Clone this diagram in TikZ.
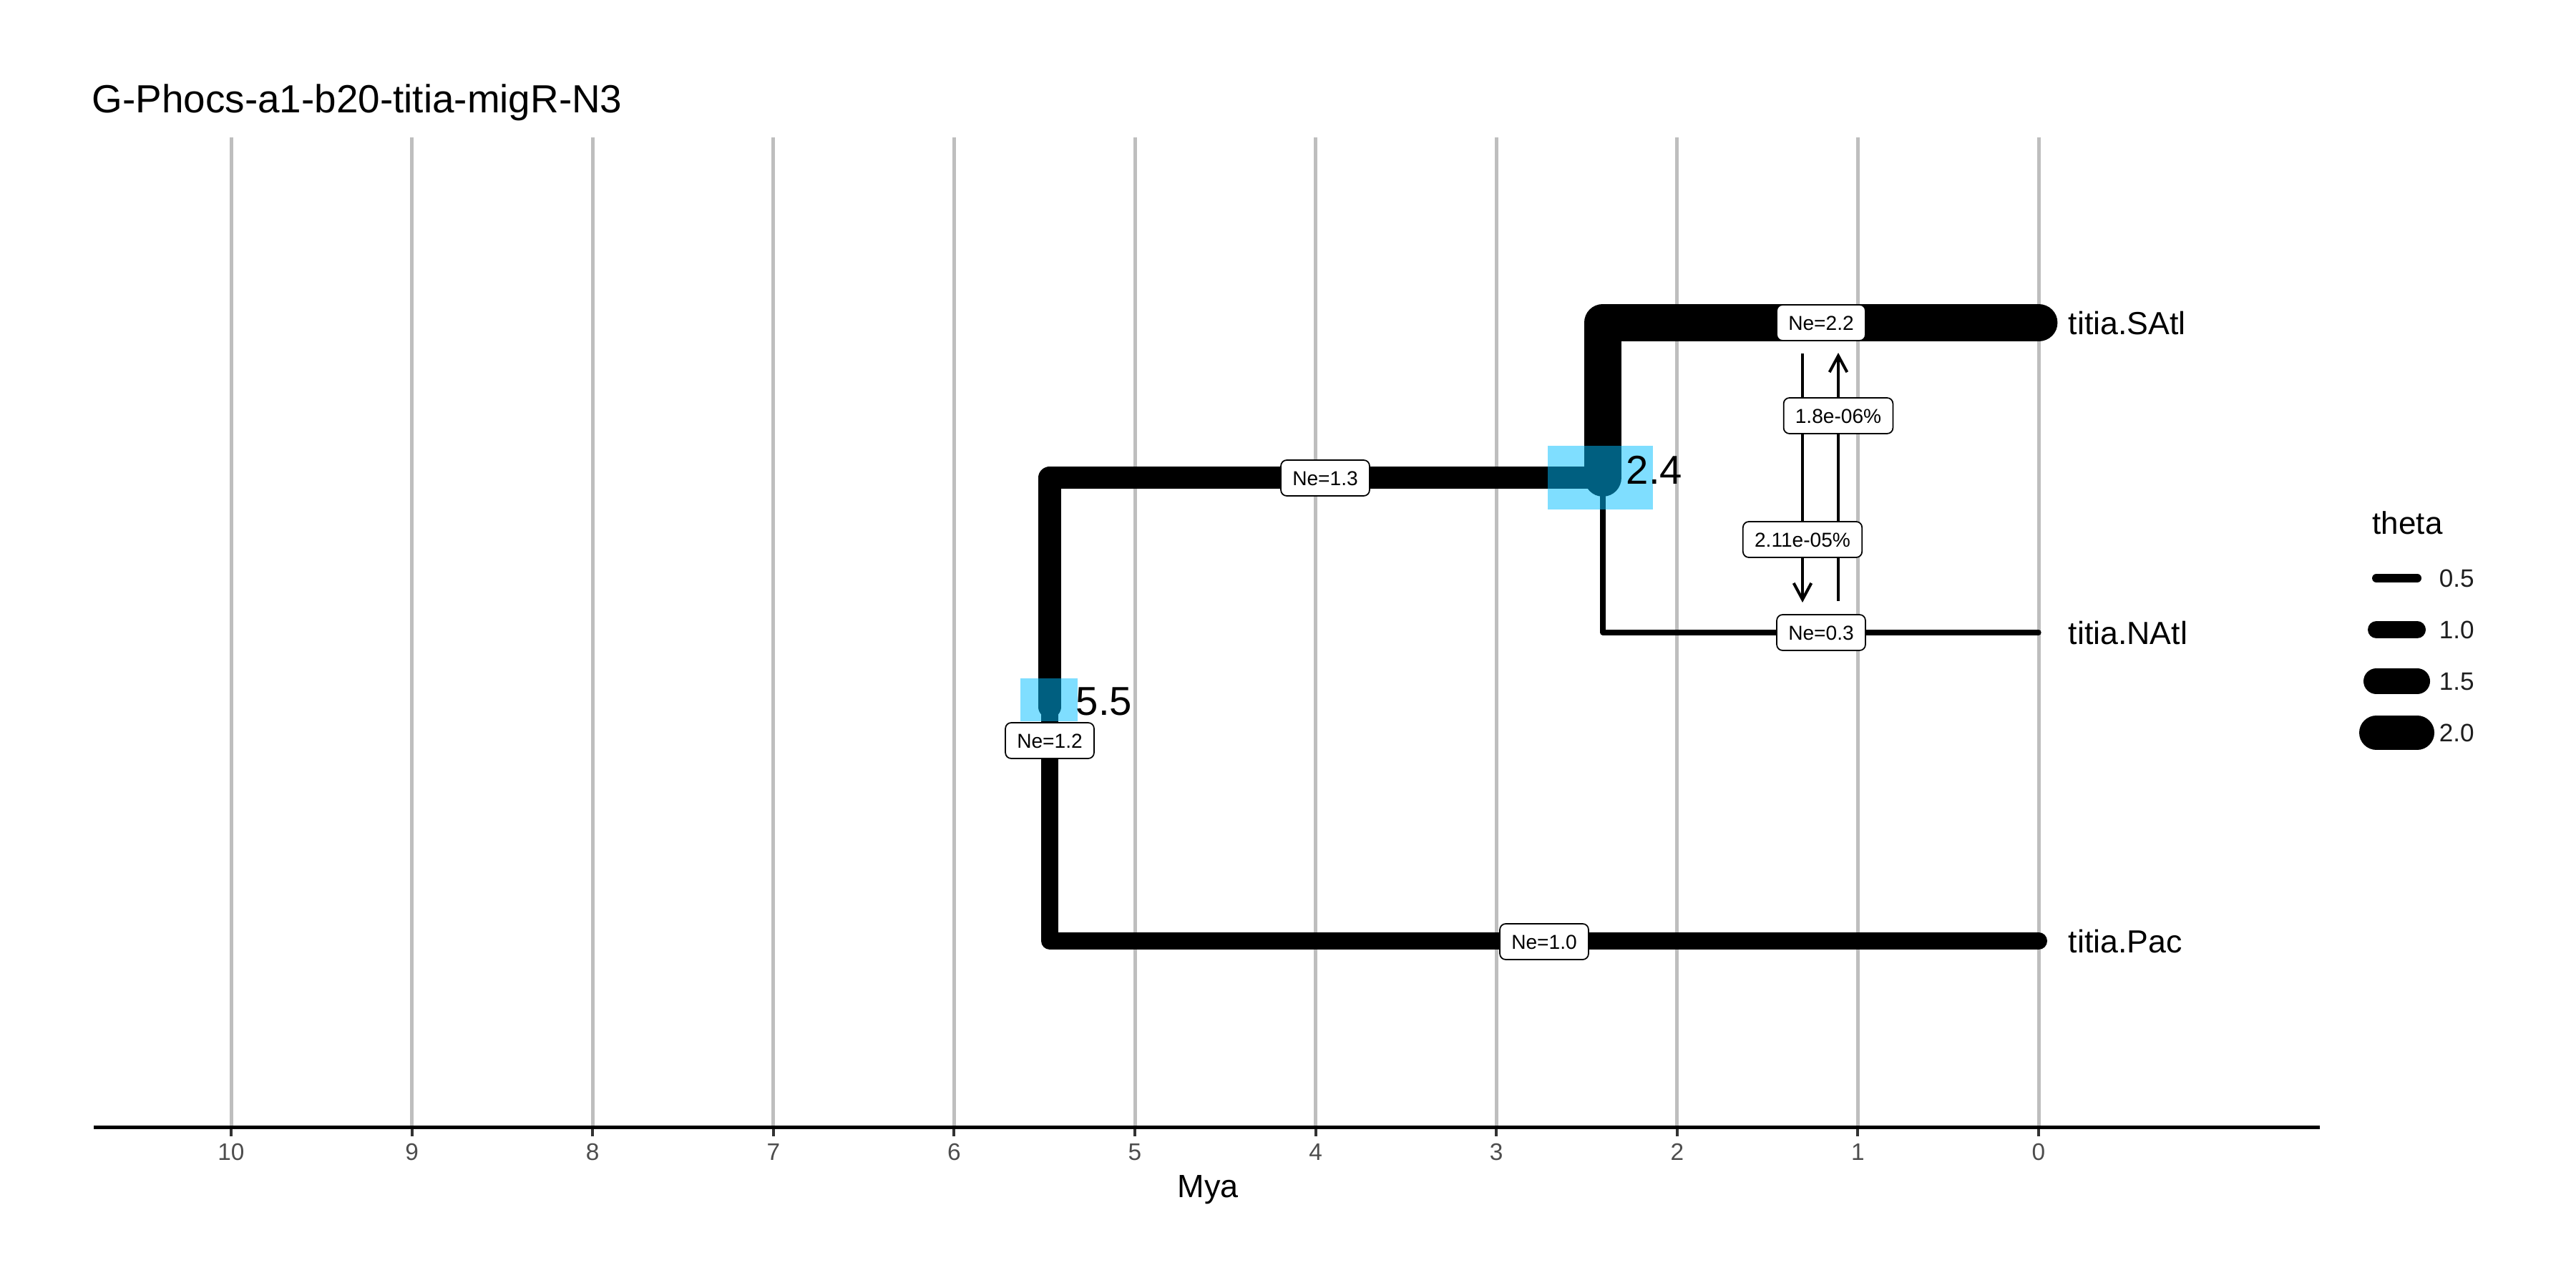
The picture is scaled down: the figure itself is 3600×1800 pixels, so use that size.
\documentclass[tikz,border=0pt]{standalone}
\usepackage{fontspec}
\setmainfont{Liberation Sans}
\usetikzlibrary{arrows.meta}
\definecolor{gridgray}{RGB}{190,190,190}
\definecolor{hpdblue}{RGB}{0,191,255}
\definecolor{ticktext}{RGB}{77,77,77}
\definecolor{tickmark}{RGB}{51,51,51}
\definecolor{legtext}{RGB}{30,30,30}
\newcommand{\setfs}[1]{\fontsize{#1}{#1}\selectfont}
\begin{document}
\begin{tikzpicture}[x=0.01cm, y=-0.01cm,
  gridline/.style={gridgray, line width=1.42pt},
  branch/.style={line width=#1, line cap=round, line join=round},
  nelabel/.style={draw=black, fill=white, rounded corners=2.3pt, line width=0.5pt,
    font=\setfs{8}, inner xsep=4.6pt, inner ysep=0pt, minimum height=14.2pt,
    text height=5.8pt, text depth=0pt},
  hpd/.style={fill=hpdblue, fill opacity=0.5},
  migr/.style={line width=1.14pt, -{Straight Barb[length=6.5pt, width=7pt]}},
  ticklab/.style={anchor=base, inner sep=0pt, text=ticktext, font=\setfs{9.5}},
  tiplab/.style={anchor=base west, inner sep=0pt, font=\setfs{12.7}},
  agelab/.style={anchor=base west, inner sep=0pt, font=\setfs{16}},
  legkey/.style={line width=#1, line cap=round},
  leglab/.style={anchor=base west, inner sep=0pt, text=legtext, font=\setfs{10}}
]
% canvas
\fill[white] (0,0) rectangle (3600,1800);
\useasboundingbox (0,0) rectangle (3600,1800);

% time grid and axis
\foreach \v in {0,...,10} {
  \pgfmathsetmacro{\gx}{2849-252.6*\v}
  \coordinate (gtop\v) at (\gx,192);
  \coordinate (gbot\v) at (\gx,1575);
  \coordinate (tk\v) at (\gx,1588);
  \draw[gridline] (gtop\v) -- (gbot\v);
}
\coordinate (axL) at (131,1575.5);
\coordinate (axR) at (3242,1575.5);
\draw[line width=1.42pt] (axL) -- (axR);
\foreach \v in {0,...,10} {
  \draw[tickmark, line width=1.14pt] ([yshift=-0.9pt]gbot\v) -- (tk\v);
  \node[ticklab] (tl\v) at ([yshift=-9.4pt]tk\v) {\v};
}
\node[anchor=base, inner sep=0pt, font=\setfs{12.8}] (xlab) at (1688,1673) {Mya};

% tree nodes
\coordinate (tipSAtl) at (2849,451);
\coordinate (tipNAtl) at (2849,884);
\coordinate (tipPac)  at (2849,1315);
\coordinate (n24)     at (2240,667.5);
\coordinate (root)    at (1467,988);

% branches (width proportional to theta)
\draw[branch=6.83pt]  (tipPac) -| (root);
\draw[branch=8.88pt]  (n24) -| (root);
\draw[branch=2.05pt]  (tipNAtl) -| (n24);
\draw[branch=15.02pt] (tipSAtl) -| (n24);

% node age intervals
\fill[hpd] (2163,623) rectangle (2310,712);
\fill[hpd] (1426,948) rectangle (1506,1008);

% migration bands
\coordinate (mSN1) at (2519,494);
\coordinate (mSN2) at (2519,842);
\coordinate (mNS1) at (2569,840);
\coordinate (mNS2) at (2569,493);
\draw[migr] (mSN1) -- (mSN2);
\draw[migr] (mNS1) -- (mNS2);
\node[nelabel] (mNSlab) at (2569,581) {1.8e-06\%};
\node[nelabel] (mSNlab) at (2519,754) {2.11e-05\%};

% population size labels
\node[nelabel] (neSAtl) at (2545,451) {Ne=2.2};
\node[nelabel] (neNAtl) at (2545,884) {Ne=0.3};
\node[nelabel] (nePac)  at (2158,1316) {Ne=1.0};
\node[nelabel] (ne24)   at (1852,668) {Ne=1.3};
\node[nelabel] (neRoot) at (1467,1035) {Ne=1.2};

% divergence times
\node[agelab] (age24)   at (2272,676) {2.4};
\node[agelab] (ageRoot) at (1503,999) {5.5};

% tip names
\node[tiplab] (labSAtl) at (2890,467) {titia.SAtl};
\node[tiplab] (labNAtl) at (2890,900) {titia.NAtl};
\node[tiplab] (labPac)  at (2890,1331) {titia.Pac};

% title
\node[anchor=base west, inner sep=0pt, font=\setfs{15.6}] (title) at (128,158) {G-Phocs-a1-b20-titia-migR-N3};

% legend
\node[anchor=base west, inner sep=0pt, font=\setfs{12.5}] (legtitle) at (3315,746) {theta};
\foreach \i/\t/\w/\yy in {1/0.5/3.41pt/808, 2/1.0/6.83pt/880, 3/1.5/10.24pt/952, 4/2.0/13.66pt/1024} {
  \coordinate (kL\i) at (3321,\yy);
  \coordinate (kR\i) at (3378,\yy);
  \draw[legkey=\w] (kL\i) -- (kR\i);
  \node[leglab] (kl\i) at (3408,\yy+12.5) {\t};
}
\end{tikzpicture}
\end{document}
